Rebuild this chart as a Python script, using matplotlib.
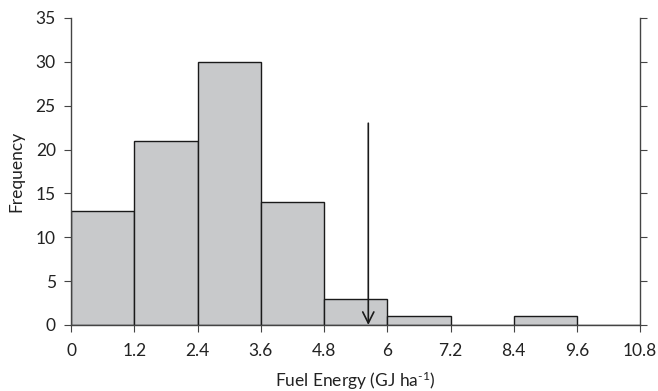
import numpy as np
import matplotlib
matplotlib.use("Agg")
import matplotlib.pyplot as plt

plt.rcParams['font.family'] = ['Lato', 'DejaVu Sans']
plt.rcParams['mathtext.fontset'] = 'custom'
plt.rcParams['mathtext.rm'] = 'Lato'
plt.rcParams['mathtext.it'] = 'Lato:italic'

# histogram data: bin edges and counts
bin_edges = [0, 1.2, 2.4, 3.6, 4.8, 6.0, 7.2, 8.4, 9.6, 10.8]
counts = [13, 21, 30, 14, 3, 1, 0, 1, 0]
xtick_labels = ["0", "1.2", "2.4", "3.6", "4.8", "6", "7.2", "8.4", "9.6", "10.8"]

# arrow marking the reference value
arrow_x = 5.64
arrow_top = 23

fig = plt.figure(figsize=(6.58, 3.91), dpi=100)
ax = fig.add_axes([0.108, 0.169, 0.865, 0.785])

lefts = bin_edges[:-1]
widths = np.diff(bin_edges)
ax.bar(lefts, counts, width=widths, align='edge', color='#c8c9cb',
       edgecolor='#1a1a1a', linewidth=1.0)

ax.annotate("", xy=(arrow_x, 0), xytext=(arrow_x, arrow_top),
            arrowprops=dict(arrowstyle='->', color='#1a1a1a', lw=1.2,
                            mutation_scale=20, shrinkA=0, shrinkB=0))

ax.set_xlim(0, 10.8)
ax.set_ylim(0, 35)
ax.set_xticks(bin_edges)
ax.set_xticklabels(xtick_labels)
ax.set_yticks(range(0, 36, 5))

ax.spines['top'].set_visible(False)
for s in ['left', 'right', 'bottom']:
    ax.spines[s].set_color('#444444')
    ax.spines[s].set_linewidth(1.0)

ax.tick_params(axis='both', direction='out', length=5, color='#444444',
               labelsize=12.5, labelcolor='#222222')
ax.tick_params(axis='x', pad=8)
ax.tick_params(axis='y', pad=6, right=True, labelright=False)

ax.set_xlabel("Fuel Energy (GJ ha$^{\\text{-1}}$)", fontsize=12.5, color='#222222', labelpad=8)
ax.set_ylabel("Frequency", fontsize=12.5, color='#222222', labelpad=8)

fig.savefig("out.png", dpi=100)
